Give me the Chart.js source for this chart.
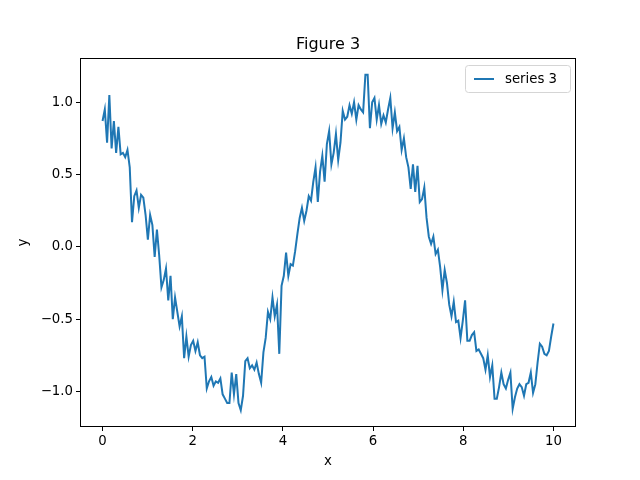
<!DOCTYPE html>
<html>
<head>
<meta charset="utf-8">
<script src="https://cdn.jsdelivr.net/npm/chart.js@4"></script>
<style>
  html, body { margin: 0; padding: 0; background: #fff; }
  canvas { display: block; }
</style>
</head>
<body>
<canvas id="fig" width="640" height="480"></canvas>
<script>
// values (200 samples on 0..10)
const titleText = 'Figure 3';
const seriesName = 'series 3';
const yValues = [
  0.87, 0.95, 0.72, 1.05, 0.68, 0.87, 0.65, 0.83, 0.64, 0.65,
  0.62, 0.67, 0.55, 0.17, 0.35, 0.39, 0.27, 0.36, 0.34, 0.22,
  0.05, 0.22, 0.15, -0.07, 0.12, -0.06, -0.28, -0.23, -0.15, -0.37,
  -0.20, -0.50, -0.35, -0.45, -0.55, -0.48, -0.77, -0.62, -0.76, -0.68,
  -0.65, -0.72, -0.66, -0.75, -0.77, -0.76, -0.98, -0.93, -0.90, -0.96,
  -0.93, -0.94, -0.91, -1.02, -1.05, -1.08, -1.08, -0.87, -1.02, -0.88,
  -1.08, -1.13, -1.03, -0.79, -0.77, -0.84, -0.82, -0.85, -0.80, -0.88,
  -0.94, -0.73, -0.63, -0.45, -0.50, -0.35, -0.48, -0.40, -0.74, -0.27,
  -0.20, -0.04, -0.20, -0.12, -0.13, -0.03, 0.09, 0.20, 0.27, 0.18,
  0.25, 0.35, 0.32, 0.45, 0.55, 0.31, 0.52, 0.63, 0.45, 0.71,
  0.80, 0.57, 0.65, 0.78, 0.60, 0.72, 0.94, 0.88, 0.90, 0.98,
  0.92, 1.00, 0.88, 0.98, 0.95, 0.93, 1.19, 1.19, 0.82, 1.00,
  1.03, 0.88, 0.98, 0.85, 0.91, 0.86, 0.95, 1.03, 0.82, 0.93,
  0.80, 0.83, 0.67, 0.75, 0.62, 0.55, 0.40, 0.57, 0.38, 0.56,
  0.31, 0.33, 0.41, 0.20, 0.07, 0.02, 0.07, -0.05, -0.02, -0.14,
  -0.30, -0.16, -0.25, -0.40, -0.48, -0.38, -0.52, -0.51, -0.63, -0.51,
  -0.37, -0.65, -0.65, -0.61, -0.59, -0.72, -0.71, -0.74, -0.77, -0.85,
  -0.75, -0.90, -0.82, -1.05, -1.05, -0.97, -0.87, -0.95, -0.98, -0.92,
  -0.87, -1.12, -1.04, -0.98, -0.95, -0.97, -1.03, -0.95, -0.94, -0.87,
  -1.01, -0.95, -0.80, -0.67, -0.69, -0.74, -0.75, -0.72, -0.62, -0.53
];
const xStart = 0;
const xEnd = 10;
const xTicks = [0, 2, 4, 6, 8, 10];
const yTicks = [-1.0, -0.5, 0.0, 0.5, 1.0];

const lineColor = '#1f77b4';
const fontFamily = '"DejaVu Sans", sans-serif';

// sample grid (evenly spaced like linspace)
const points = yValues.map((y, i) => ({
  x: xStart + (xEnd - xStart) * i / (yValues.length - 1),
  y: y
}));

// matplotlib-like 5% margins
const yMin = Math.min(...yValues), yMax = Math.max(...yValues);
const yPad = (yMax - yMin) * 0.05;
const xPad = (xEnd - xStart) * 0.05;

const fmt = v => (v < 0 ? '\u2212' : '') + Math.abs(v).toFixed(1);

// spines all round + title centred over the axes
const frame = {
  id: 'frame',
  afterDatasetsDraw(chart) {
    const { ctx, chartArea: a } = chart;
    ctx.save();
    ctx.strokeStyle = '#000';
    ctx.lineWidth = 1;
    ctx.strokeRect(Math.round(a.left) + 0.5, Math.round(a.top) + 0.5,
      Math.round(a.right - a.left) - 1, Math.round(a.bottom - a.top) - 1);
    ctx.fillStyle = '#000';
    ctx.font = '16px ' + fontFamily;
    ctx.textAlign = 'center';
    ctx.textBaseline = 'alphabetic';
    ctx.fillText(titleText, (a.left + a.right) / 2, a.top - 9);
    ctx.restore();
  }
};

// legend box in upper right, drawn like matplotlib
const innerLegend = {
  id: 'innerLegend',
  afterDraw(chart) {
    const { ctx, chartArea: a } = chart;
    const ds = chart.data.datasets[0];
    const w = 105, h = 27;
    const x = Math.round(a.right - 6 - w), y = Math.round(a.top + 7);
    ctx.save();
    ctx.beginPath();
    ctx.roundRect(x + 0.5, y + 0.5, w, h, 3);
    ctx.fillStyle = 'rgba(255,255,255,0.8)';
    ctx.fill();
    ctx.strokeStyle = '#d5d5d5';
    ctx.lineWidth = 1;
    ctx.stroke();
    ctx.beginPath();
    ctx.moveTo(x + 9, y + h / 2 + 0.5);
    ctx.lineTo(x + 29, y + h / 2 + 0.5);
    ctx.strokeStyle = ds.borderColor;
    ctx.lineWidth = 2;
    ctx.stroke();
    ctx.fillStyle = '#000';
    ctx.font = '13.3px ' + fontFamily;
    ctx.textBaseline = 'middle';
    ctx.textAlign = 'left';
    ctx.fillText(ds.label, x + 40, y + h / 2 + 1);
    ctx.restore();
  }
};

const config = {
  type: 'line',
  data: {
    datasets: [{
      label: seriesName,
      data: points,
      borderColor: lineColor,
      borderWidth: 2,
      pointRadius: 0,
      tension: 0,
      fill: false
    }]
  },
  options: {
    responsive: false,
    animation: false,
    layout: { padding: { left: 0, right: 64, top: 58, bottom: 0 } },
    plugins: {
      legend: { display: false },
      tooltip: { enabled: false },
      title: { display: false }
    },
    scales: {
      x: {
        type: 'linear',
        min: xStart - xPad,
        max: xEnd + xPad,
        afterBuildTicks: s => { s.ticks = xTicks.map(v => ({ value: v })); },
        afterFit: s => { s.height = 53; },
        ticks: {
          color: '#000',
          font: { family: fontFamily, size: 13.3 },
          padding: 3,
          maxRotation: 0,
          callback: v => String(v)
        },
        grid: { display: true, drawOnChartArea: false, drawTicks: true, tickLength: 4, color: '#000' },
        border: { display: false },
        title: {
          display: true,
          text: 'x',
          color: '#000',
          font: { family: fontFamily, size: 13.3 },
          padding: { top: 0, bottom: 10 }
        }
      },
      y: {
        type: 'linear',
        min: yMin - yPad,
        max: yMax + yPad,
        afterBuildTicks: s => { s.ticks = yTicks.map(v => ({ value: v })); },
        afterFit: s => { s.width = 80; },
        ticks: {
          color: '#000',
          font: { family: fontFamily, size: 13.3 },
          padding: 3,
          callback: v => fmt(v)
        },
        grid: { display: true, drawOnChartArea: false, drawTicks: true, tickLength: 4, color: '#000' },
        border: { display: false },
        title: {
          display: true,
          text: 'y',
          color: '#000',
          font: { family: fontFamily, size: 13.3 },
          padding: { top: 16, bottom: 0 }
        }
      }
    }
  },
  plugins: [frame, innerLegend]
};

window.addEventListener('DOMContentLoaded', () => {
  const canvas = document.getElementById('fig');
  new Chart(canvas.getContext('2d'), config);
});
</script>
</body>
</html>
